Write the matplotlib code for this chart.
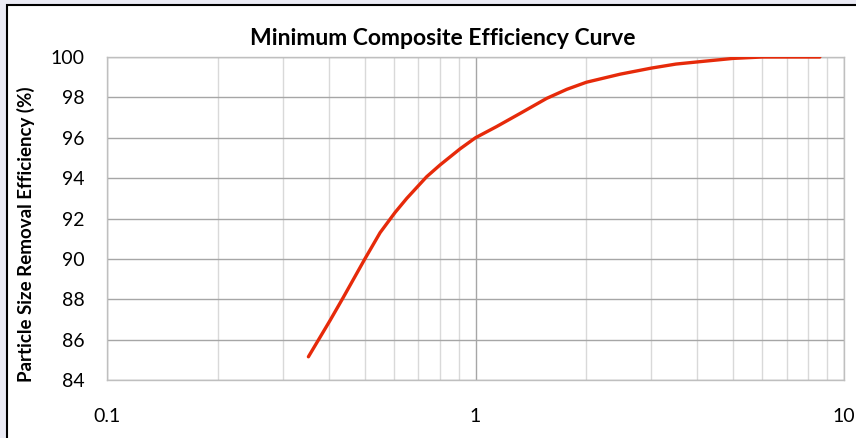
"""
Minimum composite efficiency curve (log x axis)
"""

import matplotlib
matplotlib.use('Agg')
import matplotlib.pyplot as plt
from matplotlib.patches import Rectangle
from matplotlib.ticker import FixedLocator, NullFormatter, LogLocator

# data
particle_size = [0.352, 0.403, 0.438, 0.501, 0.551, 0.605, 0.651, 0.737, 0.801, 0.908,
                 1.0, 1.14, 1.32, 1.56, 1.77, 2.0, 2.47, 3.0, 3.5, 4.07, 5.0, 6.0,
                 7.0, 8.6]
efficiency = [85.15, 86.95, 88.1, 90.0, 91.3, 92.3, 93.0, 94.07, 94.65, 95.45,
              96.0, 96.55, 97.2, 97.95, 98.4, 98.75, 99.15, 99.45, 99.65, 99.77,
              99.93, 100.0, 100.0, 100.0]
y_ticks = [84, 86, 88, 90, 92, 94, 96, 98, 100]
x_ticks = [0.1, 1, 10]
x_tick_labels = ['0.1', '1', '10']

title = 'Minimum Composite Efficiency Curve'
y_label = 'Particle Size Removal Efficiency (%)'

plt.rcParams['font.family'] = ['Lato', 'DejaVu Sans']


def setup_fig():
    fig = plt.figure(figsize=[8.56, 4.38], dpi=100)
    fig.patch.set_facecolor('#ebebf5')
    # white chart area with black frame (right/bottom edges cut off)
    fig.patches.append(Rectangle((7 / 856, -0.05), 1.0, 1 - 5 / 438 + 0.05,
                                 transform=fig.transFigure, facecolor='white',
                                 edgecolor='black', linewidth=1.5, zorder=-1))
    ax = fig.add_axes([107 / 856, 58 / 438, 737 / 856, 323 / 438])
    ax.set_facecolor('none')
    return fig, ax


def plot_curve(fig, ax):
    ax.plot(particle_size, efficiency, color='#e62a0a', linewidth=2.4,
            solid_capstyle='round', solid_joinstyle='round', zorder=3)

    ax.set_xscale('log')
    ax.set_xlim(0.1, 10)
    ax.set_ylim(84, 100)

    ax.xaxis.set_major_locator(FixedLocator(x_ticks))
    ax.set_xticklabels(x_tick_labels)
    ax.xaxis.set_minor_locator(LogLocator(base=10, subs=range(2, 10)))
    ax.xaxis.set_minor_formatter(NullFormatter())
    ax.set_yticks(y_ticks)

    ax.grid(which='minor', axis='x', color='#d9d9d9', linewidth=1.0)
    ax.grid(which='major', axis='x', color='#a6a6a6', linewidth=1.0)
    ax.grid(which='major', axis='y', color='#a6a6a6', linewidth=1.0)
    ax.set_axisbelow(True)

    for side in ['top', 'right', 'left', 'bottom']:
        ax.spines[side].set_color('#bfbfbf')
        ax.spines[side].set_linewidth(1.0)

    ax.tick_params(axis='both', which='both', length=0, labelsize=14,
                   colors='black')
    ax.tick_params(axis='x', pad=20)
    ax.tick_params(axis='y', pad=16)

    ax.set_title(title, fontsize=16.5, fontweight='bold', pad=9, x=0.455)
    ax.set_ylabel(y_label, fontsize=13.5, fontweight='bold')
    ax.yaxis.set_label_coords(-0.098, 0.45)


if __name__ == "__main__":
    fig, ax = setup_fig()
    plot_curve(fig, ax)
    fig.savefig('out.png', dpi=100, facecolor=fig.get_facecolor())
